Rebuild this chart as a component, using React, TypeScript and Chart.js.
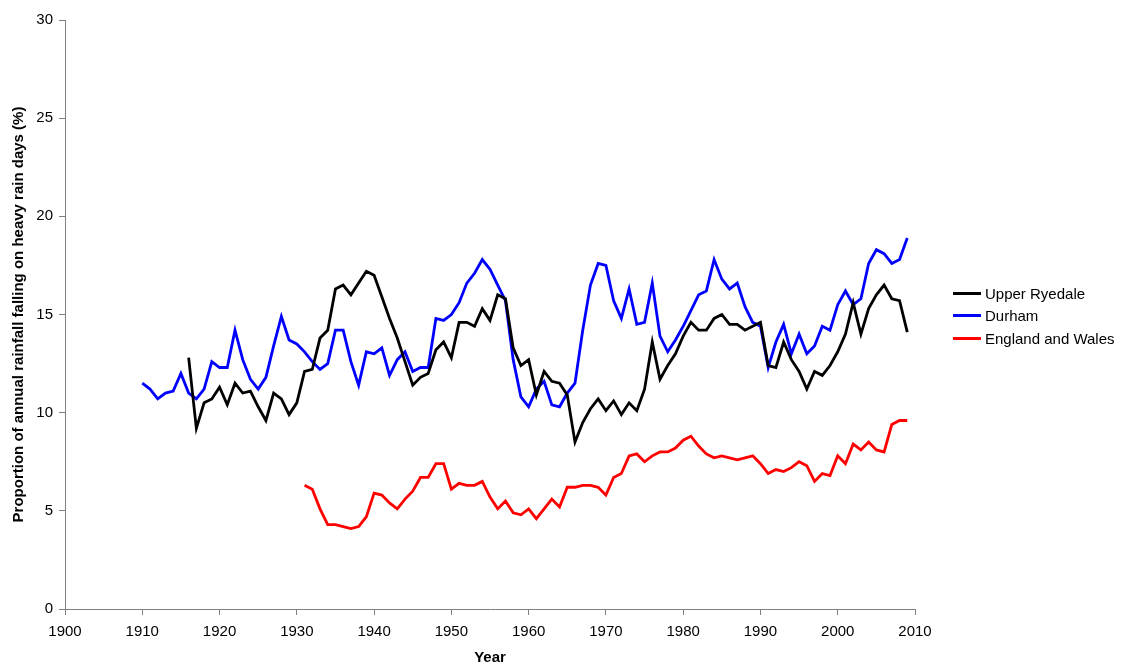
import React, { useEffect, useRef } from "react";
import { Chart, registerables } from "chart.js";

Chart.register(...registerables);

const seriesNames = ["Upper Ryedale", "Durham", "England and Wales"];
const seriesColors = ["#000000", "#0000FF", "#FF0000"];

const ryedaleStart = 1916;
const ryedaleValues = [
  12.8, 9.2, 10.5, 10.7, 11.3, 10.4, 11.5, 11.0, 11.1, 10.3,
  9.6, 11.0, 10.7, 9.9, 10.5, 12.1, 12.2, 13.8, 14.2, 16.3,
  16.5, 16.0, 16.6, 17.2, 17.0, 15.9, 14.8, 13.8, 12.6, 11.4,
  11.8, 12.0, 13.2, 13.6, 12.8, 14.6, 14.6, 14.4, 15.3, 14.7,
  16.0, 15.8, 13.3, 12.4, 12.7, 10.9, 12.1, 11.6, 11.5, 10.9,
  8.5, 9.5, 10.2, 10.7, 10.1, 10.6, 9.9, 10.5, 10.1, 11.2,
  13.6, 11.7, 12.4, 13.0, 13.9, 14.6, 14.2, 14.2, 14.8, 15.0,
  14.5, 14.5, 14.2, 14.4, 14.6, 12.4, 12.3, 13.6, 12.7, 12.1,
  11.2, 12.1, 11.9, 12.4, 13.1, 14.0, 15.6, 14.0, 15.3, 16.0,
  16.5, 15.8, 15.7, 14.1,
];

const durhamStart = 1910;
const durhamValues = [
  11.5, 11.2, 10.7, 11.0, 11.1, 12.0, 11.0, 10.7, 11.2, 12.6,
  12.3, 12.3, 14.2, 12.7, 11.7, 11.2, 11.8, 13.4, 14.9, 13.7,
  13.5, 13.1, 12.6, 12.2, 12.5, 14.2, 14.2, 12.6, 11.4, 13.1,
  13.0, 13.3, 11.9, 12.7, 13.1, 12.1, 12.3, 12.3, 14.8, 14.7,
  15.0, 15.6, 16.6, 17.1, 17.8, 17.3, 16.5, 15.7, 12.7, 10.8,
  10.3, 11.2, 11.6, 10.4, 10.3, 11.0, 11.5, 14.2, 16.5, 17.6,
  17.5, 15.7, 14.8, 16.3, 14.5, 14.6, 16.6, 13.9, 13.1, 13.7,
  14.4, 15.2, 16.0, 16.2, 17.8, 16.8, 16.3, 16.6, 15.4, 14.6,
  14.4, 12.3, 13.6, 14.5, 13.0, 14.0, 13.0, 13.4, 14.4, 14.2,
  15.5, 16.2, 15.5, 15.8, 17.6, 18.3, 18.1, 17.6, 17.8, 18.9,
];

const ewStart = 1931;
const ewValues = [
  6.3, 6.1, 5.1, 4.3, 4.3, 4.2, 4.1, 4.2, 4.7, 5.9,
  5.8, 5.4, 5.1, 5.6, 6.0, 6.7, 6.7, 7.4, 7.4, 6.1,
  6.4, 6.3, 6.3, 6.5, 5.7, 5.1, 5.5, 4.9, 4.8, 5.1,
  4.6, 5.1, 5.6, 5.2, 6.2, 6.2, 6.3, 6.3, 6.2, 5.8,
  6.7, 6.9, 7.8, 7.9, 7.5, 7.8, 8.0, 8.0, 8.2, 8.6,
  8.8, 8.3, 7.9, 7.7, 7.8, 7.7, 7.6, 7.7, 7.8, 7.4,
  6.9, 7.1, 7.0, 7.2, 7.5, 7.3, 6.5, 6.9, 6.8, 7.8,
  7.4, 8.4, 8.1, 8.5, 8.1, 8.0, 9.4, 9.6, 9.6,
];

const xMin = 1900;
const xMax = 2010;
const xStep = 10;
const yMin = 0;
const yMax = 30;
const yStep = 5;

const xTitle = "Year";
const yTitle = "Proportion of annual rainfall falling on heavy rain days (%)";

const FONT = "Liberation Sans, Arial, sans-serif";

function toPoints(start: number, values: number[]) {
  return values.map((v, i) => ({ x: start + i, y: v }));
}

export default function App() {
  const canvasRef = useRef<HTMLCanvasElement | null>(null);

  useEffect(() => {
    const ctx = canvasRef.current;
    if (!ctx) return;
    const starts = [ryedaleStart, durhamStart, ewStart];
    const vals = [ryedaleValues, durhamValues, ewValues];
    const chart = new Chart(ctx, {
      type: "line",
      data: {
        datasets: seriesNames.map((name, i) => ({
          label: name,
          data: toPoints(starts[i], vals[i]),
          borderColor: seriesColors[i],
          backgroundColor: seriesColors[i],
          borderWidth: 2.8,
          pointRadius: 0,
          tension: 0,
          fill: false,
        })),
      },
      options: {
        animation: false,
        responsive: false,
        maintainAspectRatio: false,
        layout: { padding: { top: 20, right: 207, left: 0, bottom: 0 } },
        plugins: {
          legend: { display: false },
          tooltip: { enabled: false },
        },
        scales: {
          x: {
            type: "linear",
            min: xMin,
            max: xMax,
            afterFit: (axis: any) => {
              axis.height = 55;
            },
            ticks: {
              stepSize: xStep,
              color: "#000",
              font: { family: FONT, size: 15 },
              padding: 8,
              maxRotation: 0,
              callback: (v: any) => String(v),
            },
            grid: {
              drawOnChartArea: false,
              drawTicks: true,
              tickLength: 6,
              color: "#808080",
            },
            border: { color: "#808080", width: 1 },
            title: {
              display: true,
              text: xTitle,
              color: "#000",
              font: { family: FONT, size: 15, weight: "bold" },
              padding: { top: 0, bottom: -3 },
            },
          },
          y: {
            min: yMin,
            max: yMax,
            afterFit: (axis: any) => {
              axis.width = 65;
            },
            ticks: {
              stepSize: yStep,
              color: "#000",
              font: { family: FONT, size: 15 },
              padding: 6,
            },
            grid: {
              drawOnChartArea: false,
              drawTicks: true,
              tickLength: 6,
              color: "#808080",
            },
            border: { color: "#808080", width: 1 },
            title: {
              display: true,
              text: yTitle,
              color: "#000",
              font: { family: FONT, size: 15, weight: "bold" },
              padding: { top: 10, bottom: 0 },
            },
          },
        },
      },
    });
    return () => chart.destroy();
  }, []);

  return (
    <div style={{ position: "absolute", left: 0, top: 0, width: 1122, height: 664, background: "#fff", overflow: "hidden" }}>
      <canvas ref={canvasRef} width={1122} height={664} style={{ display: "block" }} />
      <div
        style={{
          position: "absolute",
          left: 953,
          top: 281.75,
          fontFamily: FONT,
          fontSize: 15,
          color: "#000",
        }}
      >
        {seriesNames.map((name, i) => (
          <div key={name} style={{ display: "flex", alignItems: "center", height: 22.5 }}>
            <span
              style={{
                display: "inline-block",
                width: 28,
                height: 3,
                background: seriesColors[i],
                marginRight: 4,
              }}
            />
            <span style={{ whiteSpace: "nowrap" }}>{name}</span>
          </div>
        ))}
      </div>
    </div>
  );
}
